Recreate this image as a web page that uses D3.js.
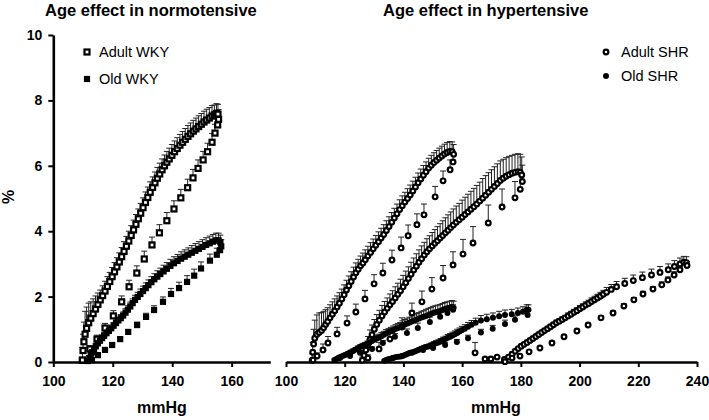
<!DOCTYPE html>
<html><head><meta charset="utf-8">
<script src="https://cdn.jsdelivr.net/npm/d3@7"></script>
<style>
html,body{margin:0;padding:0;background:#fff;}
svg{display:block;font-family:Arial,"Liberation Sans",Helvetica,sans-serif;}
</style></head><body>
<svg id="chart" width="709" height="420"></svg>
<script>
// ---- axes / labels ----
const yTicks = [0, 2, 4, 6, 8, 10];
const xTicksLeft = [100, 120, 140, 160];
const xTicksRight = [100, 120, 140, 160, 180, 200, 220, 240];
const titles = ["Age effect in normotensive", "Age effect in hypertensive"];
const legendLeft = ["Adult WKY", "Old WKY"];
const legendRight = ["Adult SHR", "Old SHR"];
const xLabel = "mmHg", yLabel = "%";

// ---- data: [mmHg, %, SEM] ----
const adultWKY = [
[109.8,0.05,0.4],[110.0,0.35,0.5],[110.3,0.62,0.6],[110.7,0.85,0.7],[111.2,1.03,0.65],[111.9,1.2,0.6],[112.6,1.34,0.5],[113.4,1.48,0.45],[114.2,1.62,0.4],[115.0,1.76,0.35],[115.8,1.9,0.3],[116.6,2.03,0.3],[117.4,2.17,0.3],[118.2,2.31,0.3],[119.0,2.46,0.28],[119.8,2.61,0.28],[120.6,2.76,0.28],[121.4,2.91,0.28],[122.2,3.06,0.28],[123.0,3.22,0.28],[123.8,3.38,0.3],[124.6,3.54,0.3],[125.4,3.7,0.3],[126.2,3.87,0.3],[127.0,4.04,0.3],[127.8,4.21,0.3],[128.6,4.38,0.3],[129.4,4.55,0.3],[130.2,4.72,0.3],[131.0,4.88,0.32],[131.8,5.03,0.32],[132.6,5.19,0.32],[133.4,5.34,0.32],[134.2,5.48,0.33],[135.0,5.62,0.33],[135.8,5.75,0.33],[136.6,5.88,0.33],[137.4,6.0,0.33],[138.2,6.11,0.33],[139.0,6.21,0.33],[139.9,6.32,0.33],[140.8,6.43,0.33],[141.7,6.53,0.33],[142.6,6.63,0.33],[143.5,6.72,0.33],[144.4,6.81,0.33],[145.3,6.9,0.33],[146.2,6.98,0.33],[147.1,7.06,0.33],[148.0,7.13,0.33],[148.9,7.2,0.33],[149.8,7.27,0.33],[150.7,7.34,0.33],[151.6,7.4,0.33],[152.5,7.46,0.32],[153.4,7.52,0.32],[154.2,7.56,0.3],[154.9,7.6,0.3],[155.4,7.58,0.3],
[155.6,7.42,0.3],[155.3,7.25,0.28],[154.4,7.0,0.27],[153.4,6.72,0.27],[151.9,6.43,0.26],[150.4,6.18,0.26],[148.7,5.92,0.26],[147.0,5.63,0.26],[145.2,5.33,0.26],[142.9,5.02,0.26],[140.6,4.68,0.25],[138.2,4.32,0.25],[135.7,3.95,0.25],[133.2,3.58,0.24],[130.6,3.15,0.24],[128.1,2.72,0.22],[125.5,2.3,0.2],[123.0,1.84,0.18],[120.2,1.41,0.16],[117.4,1.04,0.14],[114.7,0.7,0.12],[112.3,0.4,0.1],[109.8,0.06,0.08]
];
const oldWKY = [
[111.6,0.03,0.05],[112.1,0.12,0.06],[112.6,0.21,0.07],[113.1,0.3,0.08],[113.7,0.39,0.08],[114.3,0.48,0.09],[115.0,0.57,0.1],[115.7,0.65,0.1],[116.4,0.73,0.1],[117.1,0.8,0.1],[117.9,0.88,0.1],[118.7,0.95,0.1],[119.5,1.03,0.1],[120.3,1.11,0.1],[121.1,1.19,0.1],[121.9,1.27,0.1],[122.7,1.34,0.11],[123.5,1.42,0.11],[124.3,1.51,0.12],[125.1,1.6,0.12],[125.9,1.7,0.13],[126.7,1.8,0.13],[127.5,1.9,0.14],[128.4,1.99,0.14],[129.3,2.08,0.15],[130.2,2.17,0.15],[131.1,2.26,0.16],[132.0,2.35,0.16],[133.0,2.44,0.17],[134.0,2.53,0.17],[135.0,2.61,0.18],[136.0,2.69,0.18],[137.1,2.77,0.19],[138.2,2.85,0.19],[139.4,2.94,0.2],[140.6,3.02,0.2],[141.8,3.09,0.2],[143.0,3.16,0.21],[144.2,3.22,0.21],[145.4,3.28,0.21],[146.6,3.34,0.22],[147.8,3.4,0.22],[149.0,3.46,0.22],[150.2,3.52,0.22],[151.4,3.58,0.22],[152.6,3.63,0.22],[153.7,3.68,0.22],[154.7,3.72,0.22],[155.6,3.72,0.22],[156.2,3.66,0.22],
[156.5,3.54,0.2],[156.1,3.42,0.2],[155.0,3.28,0.2],[152.7,3.1,0.2],[149.7,2.86,0.2],[147.4,2.64,0.2],[145.0,2.45,0.19],[142.3,2.26,0.18],[139.6,2.08,0.17],[136.9,1.84,0.15],[133.9,1.59,0.13],[131.2,1.38,0.11],[128.2,1.13,0.09],[125.2,0.92,0.07],[122.5,0.7,0.06],[119.8,0.52,0.05],[117.4,0.37,0.04],[115.0,0.21,0.03],[113.0,0.06,0.02]
];
const adultSHR1 = [
[108.9,0.05,0.2],[109.1,0.3,0.3],[109.4,0.55,0.45],[109.8,0.73,0.55],[110.5,0.84,0.6],[111.3,0.9,0.6],[112.1,0.96,0.55],[112.8,1.05,0.5],[113.5,1.15,0.45],[114.2,1.24,0.42],[115.0,1.35,0.4],[115.8,1.46,0.38],[116.6,1.57,0.36],[117.4,1.68,0.34],[118.2,1.8,0.32],[119.0,1.93,0.3],[119.8,2.06,0.3],[120.6,2.2,0.3],[121.4,2.33,0.3],[122.2,2.46,0.3],[123.0,2.6,0.3],[123.8,2.73,0.3],[124.6,2.84,0.3],[125.4,2.94,0.3],[126.2,3.03,0.3],[127.0,3.13,0.3],[127.9,3.24,0.3],[128.8,3.35,0.3],[129.7,3.46,0.3],[130.6,3.57,0.3],[131.5,3.68,0.3],[132.4,3.79,0.3],[133.3,3.9,0.3],[134.2,4.02,0.3],[135.1,4.14,0.3],[136.0,4.27,0.3],[136.9,4.4,0.3],[137.8,4.53,0.3],[138.7,4.66,0.3],[139.6,4.78,0.3],[140.5,4.89,0.3],[141.4,5.0,0.3],[142.3,5.11,0.3],[143.2,5.23,0.3],[144.1,5.35,0.3],[145.0,5.48,0.3],[145.9,5.6,0.3],[146.8,5.71,0.3],[147.7,5.82,0.3],[148.6,5.93,0.3],[149.5,6.02,0.3],[150.4,6.1,0.3],[151.3,6.17,0.3],[152.2,6.24,0.3],[153.1,6.3,0.3],[154.0,6.36,0.3],[154.9,6.41,0.3],[155.8,6.44,0.3],[156.6,6.43,0.3],[157.1,6.35,0.3],
[156.9,6.12,0.3],[155.9,5.88,0.3],[153.5,5.54,0.3],[150.8,5.05,0.32],[147.0,4.5,0.33],[144.6,4.2,0.33],[141.6,3.86,0.33],[139.2,3.49,0.33],[136.1,3.12,0.3],[133.0,2.72,0.3],[130.0,2.39,0.28],[126.9,1.93,0.26],[123.8,1.53,0.24],[120.8,1.19,0.22],[117.4,0.86,0.2],[114.3,0.58,0.2],[112.6,0.37,0.18],[110.6,0.18,0.1],[109.2,0.06,0.05]
];
const adultSHR2 = [
[126.0,0.05,0.1],[126.6,0.2,0.15],[127.2,0.37,0.2],[127.9,0.53,0.25],[128.6,0.68,0.3],[129.3,0.83,0.3],[130.1,1.0,0.3],[130.9,1.15,0.3],[131.8,1.28,0.3],[132.7,1.41,0.32],[133.6,1.53,0.32],[134.5,1.64,0.32],[135.4,1.75,0.33],[136.3,1.85,0.33],[137.2,1.96,0.34],[138.1,2.07,0.34],[139.0,2.18,0.35],[139.9,2.3,0.35],[140.8,2.42,0.36],[141.7,2.55,0.36],[142.6,2.68,0.37],[143.5,2.81,0.37],[144.4,2.93,0.38],[145.3,3.05,0.38],[146.2,3.16,0.39],[147.1,3.27,0.39],[148.0,3.37,0.4],[148.9,3.46,0.4],[149.8,3.55,0.41],[150.7,3.63,0.42],[151.6,3.71,0.43],[152.5,3.79,0.44],[153.4,3.87,0.45],[154.3,3.95,0.46],[155.2,4.03,0.47],[156.1,4.11,0.48],[157.0,4.19,0.49],[158.0,4.27,0.5],[159.0,4.35,0.5],[160.0,4.43,0.52],[161.0,4.51,0.53],[162.0,4.59,0.54],[163.0,4.67,0.55],[164.0,4.75,0.56],[165.0,4.83,0.57],[166.0,4.92,0.58],[167.0,5.01,0.6],[168.0,5.1,0.6],[169.0,5.19,0.6],[170.0,5.28,0.6],[171.0,5.37,0.6],[172.0,5.46,0.6],[173.0,5.55,0.6],[174.0,5.62,0.58],[175.0,5.68,0.57],[176.0,5.73,0.56],[177.0,5.77,0.55],[178.0,5.8,0.55],[179.0,5.82,0.55],[179.8,5.8,0.55],[180.3,5.72,0.55],
[180.5,5.52,0.5],[179.8,5.28,0.5],[178.0,5.02,0.5],[173.6,4.74,0.55],[168.9,4.25,0.55],[163.7,3.64,0.5],[160.3,3.3,0.45],[156.9,2.97,0.4],[153.5,2.57,0.38],[149.7,2.23,0.35],[146.3,1.84,0.33],[142.9,1.5,0.3],[139.5,1.07,0.28],[135.4,0.7,0.25],[131.7,0.4,0.2],[127.9,0.12,0.1]
];
const adultSHR3 = [
[164.4,0.28,0.32],[167.8,0.09,0],[169.8,0.09,0],[171.9,0.15,0],[174.4,0.08,0],[175.8,0.15,0.03],[177.0,0.24,0.03],[178.1,0.33,0.04],[179.1,0.41,0.04],[180.1,0.48,0.05],[181.1,0.54,0.05],[182.1,0.6,0.05],[183.1,0.66,0.05],[184.1,0.72,0.06],[185.1,0.78,0.06],[186.1,0.84,0.06],[187.1,0.9,0.06],[188.1,0.96,0.07],[189.1,1.02,0.07],[190.1,1.08,0.07],[191.1,1.14,0.07],[192.1,1.2,0.08],[193.1,1.25,0.08],[194.1,1.3,0.08],[195.1,1.35,0.08],[196.1,1.41,0.09],[197.1,1.46,0.09],[198.1,1.52,0.09],[199.1,1.57,0.09],[200.1,1.63,0.1],[201.1,1.68,0.1],[202.1,1.74,0.1],[203.1,1.79,0.1],[204.1,1.85,0.11],[205.1,1.9,0.11],[206.1,1.96,0.11],[207.1,2.01,0.12],[208.1,2.07,0.12],[209.2,2.13,0.15],[210.8,2.22,0.15],[212.6,2.3,0.16],[215.4,2.4,0.16],[218.3,2.49,0.17],[221.4,2.58,0.17],[224.5,2.66,0.18],[227.4,2.74,0.18],[230.2,2.82,0.18],[232.3,2.92,0.18],[234.2,3.0,0.18],[235.5,3.05,0.18],[236.4,3.04,0.18],
[236.6,2.95,0.12],[234.2,2.82,0.1],[232.2,2.66,0.1],[230.1,2.51,0.09],[228.0,2.36,0.09],[225.0,2.23,0.08],[221.6,2.08,0.08],[218.5,1.9,0.07],[215.1,1.71,0.07],[211.4,1.5,0.06],[207.3,1.35,0.06],[202.9,1.13,0.05],[199.1,0.95,0.05],[194.7,0.77,0.04],[190.6,0.58,0.04],[186.5,0.43,0.03],[182.8,0.31,0.03],[179.7,0.18,0.02],[177.0,0.12,0.02],[174.6,0.01,0.01]
];
const oldSHR1 = [
[116.5,0.06,0.03],[117.3,0.1,0.03],[118.1,0.14,0.04],[118.9,0.17,0.04],[119.7,0.2,0.05],[120.5,0.23,0.05],[121.3,0.27,0.05],[122.1,0.3,0.06],[122.9,0.34,0.06],[123.7,0.38,0.06],[124.5,0.42,0.07],[125.3,0.46,0.07],[126.1,0.49,0.08],[126.9,0.52,0.08],[127.7,0.56,0.08],[128.5,0.6,0.09],[129.3,0.64,0.09],[130.1,0.68,0.1],[130.9,0.72,0.1],[131.7,0.75,0.1],[132.5,0.79,0.11],[133.3,0.83,0.11],[134.1,0.87,0.12],[134.9,0.9,0.12],[135.7,0.94,0.12],[136.5,0.97,0.13],[137.3,1.01,0.13],[138.1,1.04,0.14],[138.9,1.07,0.14],[139.7,1.11,0.15],[140.5,1.15,0.15],[141.3,1.18,0.16],[142.1,1.21,0.16],[142.9,1.24,0.17],[143.7,1.27,0.17],[144.5,1.3,0.18],[145.3,1.33,0.18],[146.1,1.36,0.19],[146.9,1.38,0.19],[147.7,1.41,0.2],[148.5,1.44,0.2],[149.3,1.47,0.2],[150.1,1.5,0.2],[150.9,1.52,0.2],[151.7,1.54,0.2],[152.5,1.56,0.2],[153.3,1.59,0.2],[154.1,1.62,0.2],[154.9,1.64,0.2],[155.7,1.66,0.2],[156.5,1.68,0.2],[157.1,1.66,0.2],
[156.9,1.6,0.15],[155.0,1.5,0.15],[152.5,1.38,0.15],[149.0,1.22,0.15],[144.9,1.04,0.15],[141.2,0.89,0.12],[137.1,0.77,0.1],[133.0,0.58,0.08],[129.3,0.4,0.06],[125.2,0.28,0.05],[121.8,0.18,0.04],[118.4,0.12,0.03]
];
const oldSHR2 = [
[133.5,0.04,0.02],[134.3,0.07,0.02],[135.1,0.09,0.02],[135.9,0.11,0.03],[136.7,0.13,0.03],[137.5,0.15,0.03],[138.3,0.16,0.03],[139.1,0.17,0.03],[139.9,0.19,0.04],[140.7,0.22,0.04],[141.5,0.25,0.04],[142.3,0.28,0.05],[143.1,0.3,0.05],[143.9,0.32,0.05],[144.7,0.35,0.05],[145.5,0.38,0.06],[146.3,0.41,0.06],[147.1,0.44,0.06],[147.9,0.46,0.07],[148.7,0.48,0.07],[149.5,0.51,0.07],[150.3,0.54,0.08],[151.1,0.57,0.08],[151.9,0.6,0.08],[152.7,0.63,0.09],[153.5,0.67,0.09],[154.3,0.7,0.09],[155.1,0.74,0.1],[155.9,0.77,0.1],[156.7,0.81,0.1],[157.5,0.85,0.1],[158.3,0.89,0.11],[159.1,0.93,0.11],[159.9,0.97,0.12],[160.9,1.02,0.12],[162.0,1.08,0.13],[163.2,1.14,0.13],[164.6,1.2,0.14],[166.4,1.27,0.15],[168.4,1.31,0.15],[170.5,1.35,0.15],[172.6,1.4,0.15],[174.6,1.44,0.15],[176.9,1.46,0.15],[179.0,1.5,0.15],[180.7,1.54,0.15],[182.0,1.6,0.15],[182.6,1.6,0.15],
[182.3,1.44,0.12],[178.0,1.29,0.12],[174.6,1.16,0.12],[170.4,1.02,0.1],[166.4,0.9,0.1],[162.0,0.73,0.09],[158.2,0.61,0.08],[154.2,0.52,0.07],[150.1,0.43,0.06],[146.7,0.37,0.05],[142.9,0.28,0.04],[139.5,0.18,0.03],[136.4,0.12,0.02]
];

// ---- drawing ----
const FONT = 'Arial,"Liberation Sans",Helvetica,sans-serif';
const svg = d3.select("#chart");
const y = d3.scaleLinear().domain([0, 10]).range([362, 35]);
const xL = d3.scaleLinear().domain([100, 173]).range([53.3, 270.3]);
const xR = d3.scaleLinear().domain([100, 240]).range([286, 697]);

function styleAxis(g) {
  g.select(".domain").attr("stroke", "#000").attr("stroke-width", 2.6);
  g.selectAll(".tick line").attr("stroke", "#000").attr("stroke-width", 2);
  g.selectAll(".tick text").attr("fill", "#000")
    .style("font-family", FONT).style("font-size", "14px").style("font-weight", "bold");
}

svg.append("g").attr("transform", "translate(53.3,0)")
  .call(d3.axisLeft(y).tickValues(yTicks).tickSize(5).tickSizeOuter(0).tickPadding(6))
  .call(styleAxis);
svg.append("g").attr("transform", "translate(0,362)")
  .call(d3.axisBottom(xL).tickValues(xTicksLeft).tickSize(5).tickSizeOuter(0).tickPadding(9))
  .call(styleAxis);
svg.append("g").attr("transform", "translate(0,362)")
  .call(d3.axisBottom(xR).tickValues(xTicksRight).tickSize(5).tickSizeOuter(0).tickPadding(9))
  .call(styleAxis);

// titles and labels
const tStyle = s => s.style("font-family", FONT).style("font-weight", "bold").attr("fill", "#000");
svg.append("text").attr("x", 45).attr("y", 16).style("font-size", "16.5px").text(titles[0]).call(tStyle);
svg.append("text").attr("x", 383).attr("y", 16).style("font-size", "16.5px").text(titles[1]).call(tStyle);
svg.append("text").attr("x", 162).attr("y", 413).attr("text-anchor", "middle").style("font-size", "16px").text(xLabel).call(tStyle);
svg.append("text").attr("x", 496).attr("y", 413).attr("text-anchor", "middle").style("font-size", "16px").text(xLabel).call(tStyle);
svg.append("text").attr("transform", "translate(14,197) rotate(-90)").attr("text-anchor", "middle")
  .style("font-size", "16px").text(yLabel).call(tStyle);

// series
const plot = svg.append("g");
function errorBars(xs, data) {
  const g = plot.append("g").attr("stroke", "#222").attr("stroke-width", 1).attr("fill", "none");
  data.filter(d => d[2] > 0).forEach(d => {
    const px = xs(d[0]), py = y(d[1]), pt = y(d[1] + d[2]);
    g.append("line").attr("x1", px).attr("x2", px).attr("y1", py).attr("y2", pt);
    g.append("line").attr("x1", px - 3).attr("x2", px + 3).attr("y1", pt).attr("y2", pt);
  });
}
function marker(g, shape, filled, px, py) {
  if (shape === "square") {
    const s = filled ? 6.2 : 5;
    g.append("rect").attr("x", px - s / 2).attr("y", py - s / 2).attr("width", s).attr("height", s)
      .attr("fill", filled ? "#000" : "#fff").attr("stroke", filled ? "none" : "#000").attr("stroke-width", 2.2);
  } else {
    g.append("circle").attr("cx", px).attr("cy", py).attr("r", filled ? 3 : 2.35)
      .attr("fill", filled ? "#000" : "#fff").attr("stroke", filled ? "none" : "#000").attr("stroke-width", 2.2);
  }
}
function points(xs, data, shape, filled) {
  const g = plot.append("g");
  data.forEach(d => marker(g, shape, filled, xs(d[0]), y(d[1])));
}

const leftSeries = [[adultWKY, "square", false], [oldWKY, "square", true]];
const rightSeries = [[adultSHR1, "circle", false], [adultSHR2, "circle", false], [adultSHR3, "circle", false],
                     [oldSHR1, "circle", true], [oldSHR2, "circle", true]];
leftSeries.forEach(s => errorBars(xL, s[0]));
rightSeries.forEach(s => errorBars(xR, s[0]));
leftSeries.forEach(s => points(xL, s[0], s[1], s[2]));
rightSeries.forEach(s => points(xR, s[0], s[1], s[2]));

// legends
const lg = svg.append("g");
[[legendLeft, "square", 87, 99, [52, 79]], [legendRight, "circle", 606, 621, [52, 76]]].forEach(L => {
  L[0].forEach((name, i) => {
    marker(lg, L[1], i === 1, L[2], L[4][i]);
    lg.append("text").attr("x", L[3]).attr("y", L[4][i]).attr("dy", "0.35em")
      .style("font-family", FONT).style("font-size", "14.5px").attr("fill", "#000").text(name);
  });
});
</script>
</body></html>
